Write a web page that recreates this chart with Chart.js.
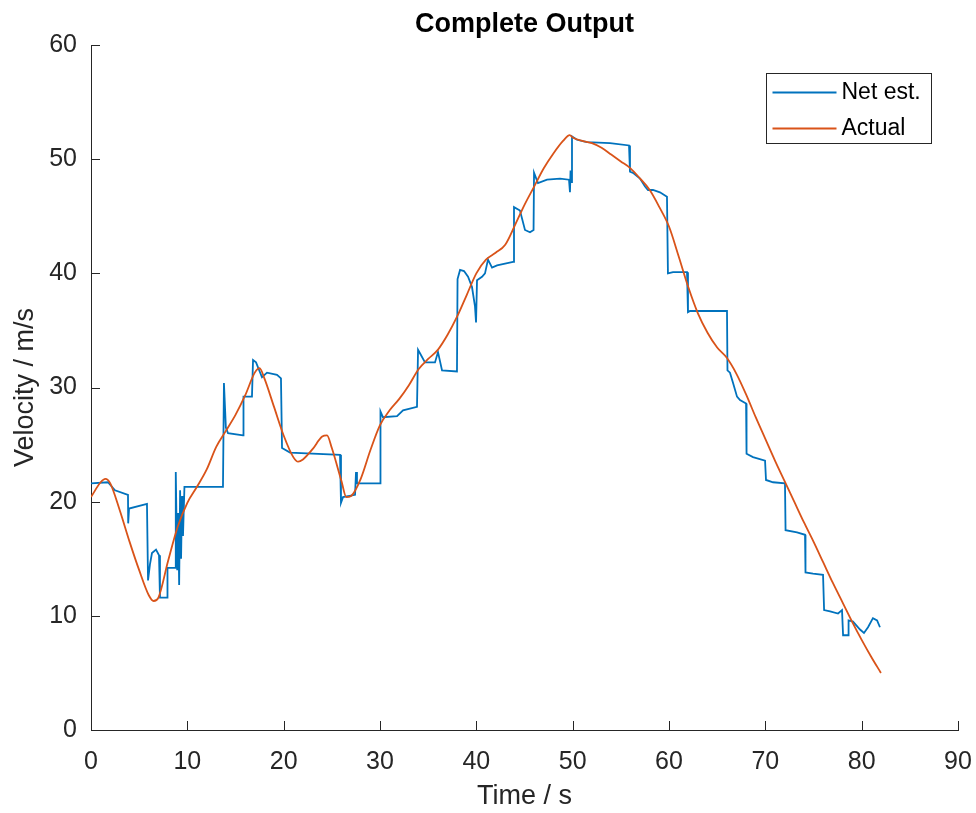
<!DOCTYPE html>
<html>
<head>
<meta charset="utf-8">
<script src="https://cdn.jsdelivr.net/npm/chart.js@4.4.0/dist/chart.umd.min.js"></script>
<style>
  html, body { margin: 0; padding: 0; background: #fff; }
</style>
</head>
<body>
<canvas id="velChart" width="976" height="813"></canvas>
<script>
// axis ticks
const xTicks = [0, 10, 20, 30, 40, 50, 60, 70, 80, 90];
const yTicks = [0, 10, 20, 30, 40, 50, 60];

// network estimate (s, m/s), steps are two points at ~same time
const netTime = [
    0, 1.76, 2.49, 3.84, 3.86, 3.95, 5.81, 5.92, 6.12, 6.33,
    6.75, 7.06, 7.16, 7.89, 7.94, 8.72, 8.8, 8.95, 9.05, 9.15,
    9.25, 9.35, 9.45, 9.55, 9.7, 9.97, 13.7, 13.8, 14.0, 14.22,
    15.78, 15.83, 16.71, 16.82, 17.13, 17.75, 18.27, 19.31, 19.72, 19.83,
    20.66, 25.85, 25.95, 26.16, 27.41, 27.51, 27.61, 30.0, 30.05, 30.3,
    31.77, 32.39, 33.84, 33.95, 34.15, 34.67, 35.71, 36.02, 36.44, 37.99,
    38.05, 38.31, 38.72, 39.14, 39.55, 39.86, 39.97, 40.07, 40.59, 40.9,
    41.21, 41.63, 42.15, 43.81, 43.91, 44.53, 45.05, 45.57, 45.94, 45.99,
    46.4, 47.34, 48.69, 49.62, 49.72, 49.78, 49.83, 49.93, 50.45, 51.49,
    53.88, 55.85, 55.95, 56.26, 56.99, 57.51, 57.82, 58.34, 59.06, 59.79,
    59.89, 60.42, 61.87, 61.97, 62.18, 66.02, 66.07, 66.33, 66.65, 67.06,
    67.37, 68.0, 68.05, 68.72, 69.97, 70.07, 70.8, 72.04, 72.1, 73.29,
    74.12, 74.17, 74.95, 75.99, 76.1, 76.72, 77.55, 77.96, 78.07, 78.59,
    78.64, 79.1, 79.83, 80.24, 80.66, 81.17, 81.6, 81.9
];
const netVel = [
    21.6, 21.7, 21.0, 20.6, 18.1, 19.4, 19.8, 13.1, 14.5, 15.5,
    15.8, 15.3, 11.6, 11.6, 14.2, 14.2, 22.6, 14.0, 19.0, 12.7,
    21.0, 15.0, 20.5, 17.0, 21.3, 21.3, 21.3, 30.4, 26.5, 26.0,
    25.8, 29.2, 29.2, 32.4, 32.2, 30.9, 31.3, 31.1, 30.8, 24.7,
    24.3, 24.1, 19.9, 20.4, 20.6, 22.6, 21.6, 21.6, 27.9, 27.4,
    27.5, 28.0, 28.3, 33.3, 33.0, 32.2, 32.2, 33.1, 31.5, 31.4,
    39.5, 40.3, 40.2, 39.7, 38.8, 37.1, 35.7, 39.4, 39.7, 40.0,
    41.2, 40.5, 40.7, 41.0, 45.8, 45.5, 43.8, 43.6, 43.8, 48.8,
    47.9, 48.2, 48.3, 48.2, 47.1, 49.0, 48.0, 52.0, 51.7, 51.5,
    51.4, 51.2, 48.9, 48.8, 48.3, 47.6, 47.3, 47.3, 47.1, 46.7,
    40.0, 40.1, 40.1, 36.6, 36.7, 36.7, 31.5, 31.3, 30.4, 29.2,
    28.9, 28.6, 24.2, 23.9, 23.6, 21.9, 21.7, 21.6, 17.5, 17.3,
    17.1, 13.8, 13.7, 13.6, 10.5, 10.4, 10.2, 10.5, 8.3, 8.3,
    9.6, 9.5, 8.8, 8.5, 9.0, 9.8, 9.6, 9.0
];

// actual velocity
const actualTime = [
    0, 1, 1.5, 2, 3, 4, 5, 6, 6.5, 7, 8, 9, 10, 11, 12, 13, 14, 15, 16, 17,
    17.5, 18, 19, 20, 21, 21.5, 22, 23, 24, 24.5, 25, 26, 26.5, 27, 28, 29, 30,
    31, 32, 33, 34, 35, 36, 37, 38, 39, 40, 41, 42, 43, 44, 45, 46, 47, 48, 49,
    49.7, 50, 51, 52, 53, 54, 55, 56, 57, 58, 59, 60, 61, 62, 63, 64, 65, 66,
    67, 68, 69, 70, 71, 72, 73, 74, 75, 76, 77, 78, 79, 80, 81, 82
];
const actualVel = [
    20.4, 21.7, 22.0, 21.6, 19.2, 16.5, 14.0, 11.8, 11.3, 11.6, 14.8, 17.8, 19.9, 21.3, 22.8, 24.8, 26.2, 27.6, 29.3, 31.3,
    31.7, 30.8, 28.3, 25.8, 23.9, 23.5, 23.7, 24.6, 25.7, 25.8, 24.7, 21.8, 20.4, 20.5, 22.0, 24.5, 26.7,
    28.0, 29.0, 30.2, 31.6, 32.5, 33.3, 34.6, 36.2, 38.1, 40.0, 41.2, 41.8, 42.5, 44.2, 46.0, 47.6, 49.2, 50.5, 51.6,
    52.1, 51.9, 51.6, 51.4, 51.0, 50.4, 49.8, 49.2, 48.3, 47.3, 45.8, 44.1, 41.5, 38.8, 36.5, 34.8, 33.5, 32.6,
    31.2, 29.4, 27.4, 25.5, 23.6, 21.8, 20.0, 18.2, 16.5, 14.7, 12.9, 11.2, 9.5, 7.9, 6.4, 5.0
];

const axisColor = '#262626';
const fontFamily = '"Liberation Sans", Arial, Helvetica, sans-serif';

// MATLAB style: inward ticks and a boxed legend in the top right corner
const matlabAxes = {
    id: 'matlabAxes',
    afterDraw(chart) {
        const { ctx, chartArea: a, scales: { x, y } } = chart;
        ctx.save();
        ctx.strokeStyle = axisColor;
        ctx.lineWidth = 1;
        ctx.beginPath();
        xTicks.forEach(v => {
            const px = Math.round(x.getPixelForValue(v)) + 0.5;
            ctx.moveTo(px, a.bottom);
            ctx.lineTo(px, a.bottom - 9);
        });
        yTicks.forEach(v => {
            const py = Math.round(y.getPixelForValue(v)) + 0.5;
            ctx.moveTo(a.left, py);
            ctx.lineTo(a.left + 9, py);
        });
        ctx.stroke();

        // legend
        const bx = a.right - 191.5, by = a.top + 28.5, bw = 165, bh = 70;
        ctx.fillStyle = '#fff';
        ctx.fillRect(bx, by, bw, bh);
        ctx.strokeRect(bx, by, bw, bh);
        ctx.font = '23px ' + fontFamily;
        ctx.textBaseline = 'middle';
        const rows = [by + 19, by + 55];
        chart.data.datasets.forEach((d, i) => {
            ctx.strokeStyle = d.borderColor;
            ctx.lineWidth = 1.8;
            ctx.beginPath();
            ctx.moveTo(bx + 6, rows[i]);
            ctx.lineTo(bx + 70, rows[i]);
            ctx.stroke();
            ctx.fillStyle = '#000';
            ctx.fillText(d.label, bx + 75, rows[i]);
        });
        ctx.restore();
    }
};

const ctx = document.getElementById('velChart').getContext('2d');
new Chart(ctx, {
    type: 'line',
    data: {
        datasets: [{
            label: 'Net est.',
            data: netTime.map((t, i) => ({ x: t, y: netVel[i] })),
            borderColor: '#0072BD',
            borderWidth: 1.8,
            pointRadius: 0,
            tension: 0,
            order: 1
        }, {
            label: 'Actual',
            data: actualTime.map((t, i) => ({ x: t, y: actualVel[i] })),
            borderColor: '#D95319',
            borderWidth: 1.8,
            pointRadius: 0,
            cubicInterpolationMode: 'monotone',
            order: 0
        }]
    },
    options: {
        responsive: false,
        animation: false,
        layout: { padding: { left: 0, right: 18, top: 0, bottom: 0 } },
        plugins: {
            legend: { display: false },
            tooltip: { enabled: false },
            title: {
                display: true,
                text: 'Complete Output',
                fullSize: false,
                color: '#000',
                font: { family: fontFamily, size: 27, weight: 'bold' },
                padding: { top: 8, bottom: 4.6 }
            }
        },
        scales: {
            x: {
                type: 'linear',
                min: 0,
                max: 90,
                afterBuildTicks: s => { s.ticks = xTicks.map(v => ({ value: v })); },
                afterFit: s => { s.height = 83; s.paddingLeft = 0; s.paddingRight = 0; },
                grid: { display: false, drawTicks: false },
                border: { display: true, color: axisColor, width: 1 },
                ticks: {
                    color: axisColor,
                    padding: 17,
                    maxRotation: 0,
                    font: { family: fontFamily, size: 25 }
                },
                title: {
                    display: true,
                    text: 'Time / s',
                    color: axisColor,
                    font: { family: fontFamily, size: 27 },
                    padding: { top: 0, bottom: 0 }
                }
            },
            y: {
                type: 'linear',
                min: 0,
                max: 60,
                afterBuildTicks: s => { s.ticks = yTicks.map(v => ({ value: v })); },
                afterFit: s => { s.width = 91; },
                grid: { display: false, drawTicks: false },
                border: { display: true, color: axisColor, width: 1 },
                ticks: {
                    color: axisColor,
                    padding: 14,
                    font: { family: fontFamily, size: 25 }
                },
                title: {
                    display: true,
                    text: 'Velocity / m/s',
                    color: axisColor,
                    font: { family: fontFamily, size: 27 },
                    padding: { top: 9, bottom: 0 }
                }
            }
        }
    },
    plugins: [matlabAxes]
});
</script>
</body>
</html>
